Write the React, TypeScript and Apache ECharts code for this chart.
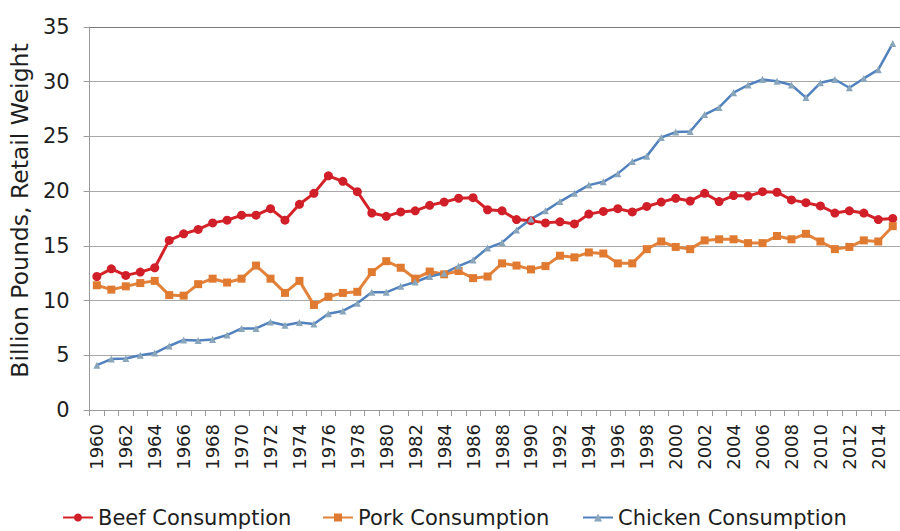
import React, { useEffect, useRef } from "react";
import * as echarts from "echarts";

// Years 1960–2015
const years: string[] = [];
for (let y = 1960; y <= 2015; y++) years.push(String(y));

// Billion pounds, retail weight
const beef = [
  12.2, 12.9, 12.3, 12.6, 13.0, 15.5, 16.1, 16.5, 17.1, 17.35,
  17.8, 17.8, 18.4, 17.35, 18.8, 19.8, 21.4, 20.9, 19.95, 18.0,
  17.7, 18.1, 18.2, 18.7, 19.0, 19.35, 19.4, 18.3, 18.2, 17.4,
  17.3, 17.1, 17.2, 17.0, 17.9, 18.15, 18.4, 18.1, 18.6, 19.0,
  19.35, 19.1, 19.8, 19.05, 19.6, 19.55, 19.95, 19.9, 19.2, 18.95,
  18.65, 18.0, 18.2, 18.0, 17.4, 17.5,
];

const pork = [
  11.4, 11.0, 11.3, 11.6, 11.8, 10.5, 10.45, 11.5, 12.0, 11.65,
  12.0, 13.2, 12.0, 10.7, 11.8, 9.6, 10.35, 10.7, 10.8, 12.6,
  13.6, 13.0, 12.0, 12.65, 12.4, 12.7, 12.05, 12.2, 13.4, 13.2,
  12.85, 13.15, 14.1, 13.95, 14.4, 14.3, 13.4, 13.4, 14.7, 15.4,
  14.9, 14.7, 15.5, 15.6, 15.6, 15.25, 15.25, 15.9, 15.6, 16.1,
  15.4, 14.7, 14.9, 15.5, 15.4, 16.8,
];

const chicken = [
  4.1, 4.65, 4.7, 5.0, 5.2, 5.85, 6.4, 6.35, 6.45, 6.85,
  7.45, 7.45, 8.05, 7.75, 8.0, 7.85, 8.8, 9.05, 9.75, 10.75,
  10.75, 11.3, 11.7, 12.2, 12.5, 13.15, 13.7, 14.8, 15.3, 16.45,
  17.45, 18.2, 19.05, 19.8, 20.55, 20.85, 21.6, 22.7, 23.2, 24.9,
  25.4, 25.45, 27.0, 27.65, 29.0, 29.7, 30.2, 30.05, 29.7, 28.55,
  29.9, 30.2, 29.45, 30.3, 31.1, 33.5,
];

const FONT = "DejaVu Sans";
const TEXT = "#1e1e1e";

export default function App() {
  const ref = useRef<HTMLDivElement>(null);

  useEffect(() => {
    document.body.style.margin = "0";
    if (!ref.current) return;
    const chart = echarts.init(ref.current, null, { renderer: "svg" });

    const legendBase = {
      top: 507,
      itemWidth: 30,
      itemHeight: 10,
      itemGap: 0,
      textStyle: { fontFamily: FONT, fontSize: 21, color: TEXT },
      padding: 0,
    };

    chart.setOption({
      animation: false,
      backgroundColor: "#fff",
      grid: { left: 89, right: -7, top: 27, bottom: 121, containLabel: false },
      legend: [
        { ...legendBase, left: 62, data: ["Beef Consumption"] },
        { ...legendBase, left: 322, data: ["Pork Consumption"] },
        { ...legendBase, left: 582, data: ["Chicken Consumption"] },
      ],
      xAxis: {
        type: "category",
        data: years,
        boundaryGap: true,
        axisLine: { show: true, lineStyle: { color: "#9a9a9a", width: 1 } },
        axisTick: { show: true, interval: 0, length: 6, lineStyle: { color: "#9a9a9a" } },
        axisLabel: {
          interval: 1,
          rotate: 90,
          margin: 14,
          fontFamily: FONT,
          fontSize: 18,
          color: TEXT,
        },
      },
      yAxis: {
        type: "value",
        min: 0,
        max: 35,
        interval: 5,
        name: "Billion Pounds, Retail Weight",
        nameLocation: "middle",
        nameGap: 53,
        nameTextStyle: { fontFamily: FONT, fontSize: 23.5, color: TEXT, padding: [0, 0, 0, 16] },
        axisLine: { show: true, lineStyle: { color: "#9a9a9a", width: 1 } },
        axisTick: { show: true, length: 6, lineStyle: { color: "#9a9a9a" } },
        axisLabel: { margin: 20, fontFamily: FONT, fontSize: 21, color: TEXT },
        splitLine: {
          show: true,
          lineStyle: { color: ["#a8a8a8", "#a8a8a8", "#a8a8a8", "#a8a8a8", "#a8a8a8", "#a8a8a8", "#a8a8a8", "#7a7a7a"], width: 1 },
        },
      },
      series: [
        {
          name: "Beef Consumption",
          type: "line",
          data: beef,
          symbol: "circle",
          symbolSize: 9,
          lineStyle: { color: "#d42229", width: 3 },
          itemStyle: { color: "#d11f2a" },
        },
        {
          name: "Pork Consumption",
          type: "line",
          data: pork,
          symbol: "rect",
          symbolSize: 8,
          lineStyle: { color: "#e3823a", width: 3 },
          itemStyle: { color: "#e07a30" },
        },
        {
          name: "Chicken Consumption",
          type: "line",
          data: chicken,
          symbol: "triangle",
          symbolSize: 7,
          lineStyle: { color: "#5282bd", width: 2.5 },
          itemStyle: { color: "#8aa6bb" },
        },
      ],
    });

    return () => chart.dispose();
  }, []);

  return <div ref={ref} style={{ width: 900, height: 531 }} />;
}
